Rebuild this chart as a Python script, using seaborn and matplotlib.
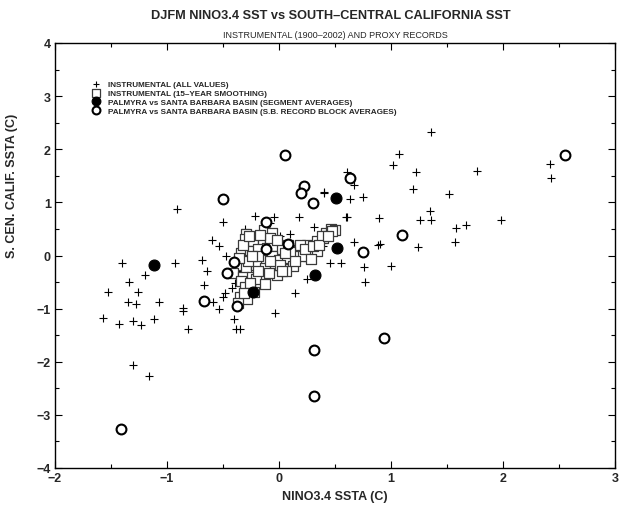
import matplotlib
matplotlib.use("Agg")
import matplotlib.pyplot as plt
import seaborn as sns
import numpy as np
import pandas as pd
from matplotlib.ticker import MultipleLocator
from matplotlib import font_manager

# --- data ---
inst_x = [1.357, 1.07, 1.02, 1.22, 1.77, 2.42, 2.43, 0.61, 0.67, 0.40, 0.634, 0.75, 1.20, 1.52,
          1.345, 1.26, 1.36, 0.60, 0.61, 0.89, 1.98, 1.58, 1.67, 1.57, 0.39, 0.67, 0.88, 0.90,
          1.24, 0.455, 0.55, 0.756, 1.0, 0.77, 0.14,
          -0.60, -0.536, -1.40, -0.93, -0.69, -0.47, -1.20, -0.646, -1.34, -1.53, -1.256, -0.67,
          -0.48, -0.50, -1.35, -1.28, -1.07, -0.86, -0.86, -0.59, -0.54, -1.575, -1.43, -1.30,
          -1.23, -1.12, -0.81, -0.40, -0.384, -0.345, -1.30, -1.16,
          -0.91, -0.50, -0.21, -0.045, 0.18, 0.405, 0.315,
          -0.303, 0.009, 0.247, -0.036, -0.393,
          -0.08, 0.10, -0.35, 0.05, 0.20, -0.15, 0.30, -0.25, -0.42, 0.44]
inst_y = [2.33, 1.92, 1.70, 1.58, 1.60, 1.73, 1.45, 1.58, 1.33, 1.19, 1.06, 1.11, 1.26, 1.16,
          0.845, 0.67, 0.67, 0.73, 0.73, 0.71, 0.66, 0.51, 0.58, 0.26, 0.17, 0.25, 0.19, 0.21,
          0.16, -0.15, -0.14, -0.21, -0.19, -0.49, -0.70,
          0.30, 0.175, -0.14, -0.14, -0.09, -0.01, -0.36, -0.29, -0.50, -0.68, -0.68, -0.56,
          -0.71, -0.79, -0.88, -0.92, -0.88, -0.98, -1.05, -0.88, -1.0, -1.18, -1.28, -1.23,
          -1.31, -1.19, -1.38, -1.20, -1.39, -1.38, -2.06, -2.27,
          0.88, 0.63, 0.75, 0.73, 0.73, 1.18, 0.54,
          0.50, 0.36, -0.451, -1.077, -0.514,
          0.61, 0.40, -0.30, -0.05, 0.20, 0.0, 0.10, -0.60, -0.62, 0.38]

smooth_x = [-0.294, -0.303, -0.235, -0.131, -0.062, -0.146, -0.080, -0.339, -0.259, -0.190,
            -0.110, -0.044, 0.024, 0.113, 0.173, 0.253, 0.336, 0.420, 0.461, 0.500,
            -0.312, -0.229, -0.146, -0.065, 0.003, 0.075, 0.152, 0.262, 0.336, -0.378,
            -0.294, -0.205, -0.125, -0.036, 0.054, 0.122, -0.408, -0.324, -0.244, -0.146,
            -0.021, 0.063, -0.342, -0.205, -0.125, -0.259, -0.223, -0.348, -0.283, -0.363,
            -0.080, 0.188, 0.084, 0.396, 0.217, 0.009, -0.184, -0.274, -0.080, 0.47, 0.38,
            -0.32, -0.27, -0.17, -0.02, 0.10, 0.23, 0.30, 0.36, -0.36, -0.30, -0.19, -0.09,
            0.03, 0.14, -0.26, -0.31, -0.24, 0.44, 0.29, 0.05]
smooth_y = [0.406, 0.312, 0.269, 0.475, 0.425, 0.300, 0.250, 0.050, 0.081, 0.125,
            0.144, 0.175, 0.125, 0.112, 0.081, 0.206, 0.269, 0.425, 0.500, 0.475,
            -0.076, -0.044, -0.076, -0.013, -0.076, -0.044, -0.013, 0.000, 0.081, -0.170,
            -0.232, -0.188, -0.232, -0.201, -0.251, -0.201, -0.326, -0.401, -0.401, -0.376,
            -0.376, -0.295, -0.483, -0.451, -0.545, -0.626, -0.689, -0.777, -0.827, -0.889,
            0.331, 0.206, 0.206, 0.331, -0.013, -0.170, -0.013, -0.107, -0.107, 0.47, 0.37,
            0.20, 0.36, 0.38, 0.30, 0.06, 0.12, 0.18, 0.20, -0.05, -0.60, -0.30, -0.32,
            -0.30, -0.10, -0.52, -0.70, 0.00, 0.36, -0.06, 0.05]

seg_x = [0.51, 0.52, 0.32, -0.23, -1.116]
seg_y = [1.08, 0.14, -0.36, -0.69, -0.18]

block_x = [0.057, 0.226, 0.20, 0.30, -0.50, -0.12, 0.078, -0.12, -0.40, -0.46, -0.667, -0.375,
           -1.41, 0.63, 1.095, 0.75, 2.55, 0.94, 0.315, 0.31]
block_y = [1.90, 1.31, 1.18, 0.98, 1.07, 0.63, 0.225, 0.13, -0.13, -0.33, -0.86, -0.95,
           -3.27, 1.45, 0.39, 0.06, 1.90, -1.55, -1.78, -2.65]

labels = ["INSTRUMENTAL (ALL VALUES)",
          "INSTRUMENTAL (15\u2013YEAR SMOOTHING)",
          "PALMYRA vs SANTA BARBARA BASIN (SEGMENT AVERAGES)",
          "PALMYRA vs SANTA BARBARA BASIN (S.B. RECORD BLOCK AVERAGES)"]

title = "DJFM NINO3.4 SST vs SOUTH\u2013CENTRAL CALIFORNIA SST"
subtitle = "INSTRUMENTAL (1900\u20132002) AND PROXY RECORDS"
xlabel = "NINO3.4 SSTA (C)"
ylabel = "S. CEN. CALIF. SSTA (C)"

sns.set_style("white")
plt.rcParams['font.family'] = ['Liberation Sans', 'DejaVu Sans']
plt.rcParams['axes.unicode_minus'] = True

fig = plt.figure(figsize=(6.2, 5.06), dpi=100)
ax = fig.add_axes([55/620, 1-469/506, 560/620, 425/506])

sns.scatterplot(x=inst_x, y=inst_y, marker='+', s=38, color='black', linewidth=0.8,
                ax=ax, label=labels[0], zorder=2)
sns.scatterplot(x=smooth_x, y=smooth_y, marker='s', s=55, facecolor='white',
                edgecolor='#3a3a3a', linewidth=0.9, ax=ax, label=labels[1], zorder=3)
sns.scatterplot(x=seg_x, y=seg_y, marker='o', s=62, color='black', edgecolor='black',
                linewidth=0.8, ax=ax, label=labels[2], zorder=5)
sns.scatterplot(x=block_x, y=block_y, marker='o', s=50, facecolor='white',
                edgecolor='black', linewidth=1.5, ax=ax, label=labels[3], zorder=4)

ax.set_xlim(-2, 3)
ax.set_ylim(-4, 4)
ax.xaxis.set_major_locator(MultipleLocator(1))
ax.xaxis.set_minor_locator(MultipleLocator(0.5))
ax.yaxis.set_major_locator(MultipleLocator(1))
ax.yaxis.set_minor_locator(MultipleLocator(0.5))
ax.tick_params(which='both', direction='in', top=True, right=True, bottom=True, left=True,
               labelsize=9, width=0.8, color='black', pad=3)
ax.tick_params(which='major', length=5)
ax.tick_params(which='minor', length=3)
for lab in ax.get_xticklabels() + ax.get_yticklabels():
    lab.set_fontweight('bold')
for sp in ax.spines.values():
    sp.set_visible(True)
    sp.set_color('black')
    sp.set_linewidth(1.0)

ax.set_xlabel(xlabel, fontsize=9, fontweight='bold', labelpad=4)
ax.set_ylabel(ylabel, fontsize=9, fontweight='bold', labelpad=8)
ax.yaxis.set_label_coords(-0.066, 0.665)

fig.text(331/620, 1-16/506, title, ha='center', va='center', fontsize=9.2,
         fontweight='bold')
fig.text(335/620, 1-35/506, subtitle, ha='center', va='center', fontsize=6.5)

leg = ax.legend(loc='upper left', bbox_to_anchor=(0.066, 0.913), frameon=False,
                handlelength=1.0, handletextpad=0.95, labelspacing=0.15, borderpad=0,
                borderaxespad=0, markerscale=0.8,
                prop={'weight': 'bold', 'size': 5.9})

fig.savefig("out.png", dpi=100)
